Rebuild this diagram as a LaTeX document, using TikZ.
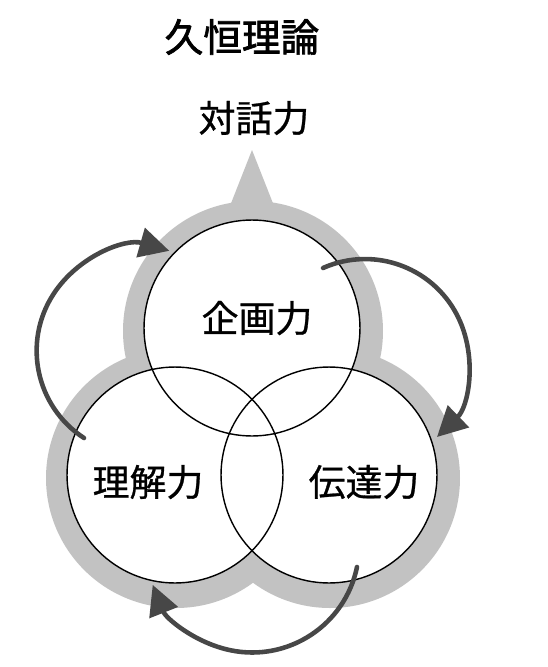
\documentclass[tikz,border=0pt]{standalone}
\usepackage{fontspec}
\newfontfamily\jpfont[FakeBold=0.8]{Noto Sans CJK JP}
\newfontfamily\jptitle[FakeBold=1.8]{Noto Sans CJK JP}
\usetikzlibrary{arrows.meta}

\begin{document}
\begin{tikzpicture}[x=0.02cm, y=0.02cm,
    band/.style={fill=black!24},
    ring/.style={circle, draw, thick, minimum size=4.32cm, inner sep=0pt},
    turn/.style={line width=2.6pt, draw=black!72, line cap=round,
        -{Triangle[length=17pt, width=17pt, fill=black!72]}},
    every node/.style={font=\jpfont\fontsize{21}{25}\selectfont}
]
    \useasboundingbox (0,0) rectangle (548,-667);

    % shaded band
    \fill[band] (253,-331) circle[radius=130] (176,-478) circle[radius=130]
        (330,-478) circle[radius=130];
    \fill[band] (252,-150) -- (226,-216) -- (278,-216) -- cycle;
    \fill[white] (252,-328) circle[radius=108] (175,-475) circle[radius=108]
        (329,-475) circle[radius=108];

    % circles
    \node[ring] (kikaku) at (252,-328) {};
    \node[ring] (rikai) at (175,-475) {};
    \node[ring] (dentatsu) at (329,-475) {};

    % texts
    \node[font=\jptitle\fontsize{22}{26}\selectfont] (title) at (242,-37) {久恒理論};
    \node (taiwa) at (254,-118) {対話力};
    \node (kikakutext) at (257,-318) {企画力};
    \node (rikaitext) at (148,-482) {理解力};
    \node (dentatsutext) at (364,-482) {伝達力};

    % arrows
    \coordinate (fromrikai) at (84,-438);
    \coordinate (fromkikaku) at (323,-268);
    \coordinate (fromdentatsu) at (357,-567);
    \draw[turn] (fromrikai) arc[start angle=237, end angle=74, radius=104];
    \draw[turn] (fromkikaku) arc[start angle=114, end angle=-46, radius=103.5];
    \draw[turn] (fromdentatsu) arc[start angle=-11.6, end angle=-158.4, radius=107];
\end{tikzpicture}
\end{document}
